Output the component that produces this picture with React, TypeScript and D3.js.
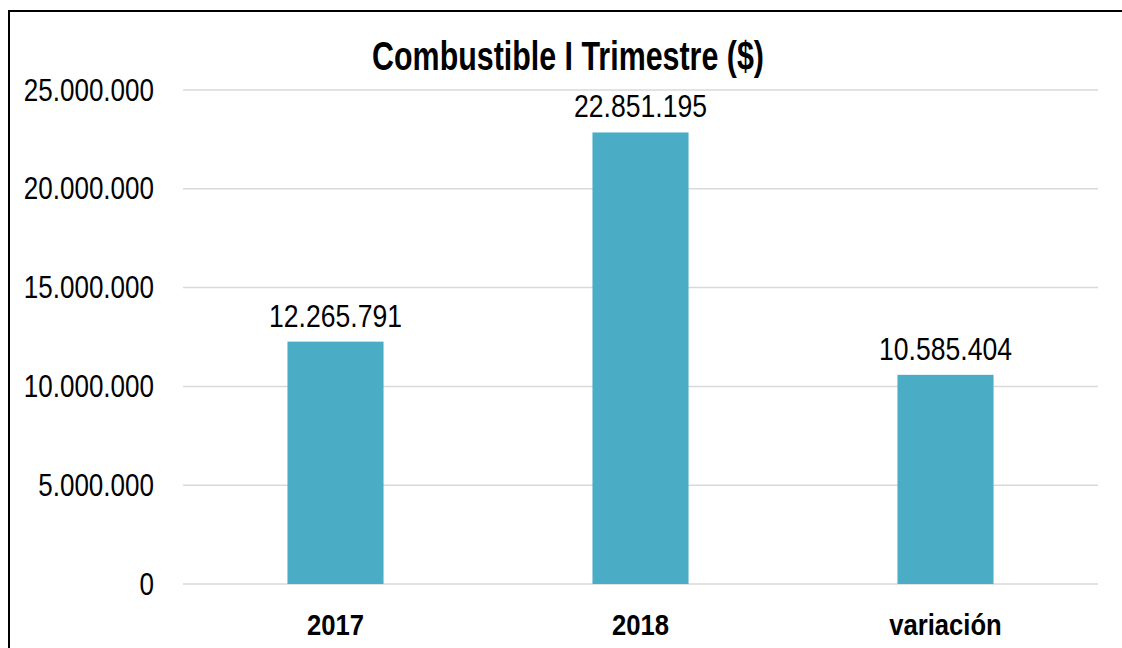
import { useEffect, useRef } from "react";
import * as d3 from "d3";

const categories = ["2017", "2018", "variación"];
const values = [12265791, 22851195, 10585404];
const yTicks = [0, 5000000, 10000000, 15000000, 20000000, 25000000];
const title = "Combustible I Trimestre ($)";

// no narrow font installed, so Liberation Sans is squeezed horizontally
const FONT = "'Liberation Sans', Arial, sans-serif";

// dots as thousand separators, like the original
const fmt = (v: number) => d3.format(",")(v).replace(/,/g, ".");

export default function App() {
  const ref = useRef<SVGSVGElement>(null);

  useEffect(() => {
    if (!ref.current) return;
    const width = 1122;
    const height = 648;
    const margin = { top: 90, right: 24, bottom: 64, left: 183 };

    const svg = d3.select(ref.current);
    svg.selectAll("*").remove();

    // chart border, runs off the right and bottom of the picture
    svg.append("rect")
      .attr("x", 9)
      .attr("y", 11)
      .attr("width", 1200)
      .attr("height", 800)
      .attr("fill", "#fff")
      .attr("stroke", "#000")
      .attr("stroke-width", 2);

    const x = d3.scaleBand()
      .domain(categories)
      .range([margin.left, width - margin.right])
      .padding(0);
    const y = d3.scaleLinear()
      .domain([0, 25000000])
      .range([height - margin.bottom, margin.top]);

    const barW = x.bandwidth() * 0.315;

    svg.append("g")
      .selectAll("line")
      .data(yTicks)
      .enter()
      .append("line")
      .attr("x1", margin.left)
      .attr("x2", width - margin.right)
      .attr("y1", (d) => y(d))
      .attr("y2", (d) => y(d))
      .attr("stroke", "#d9d9d9")
      .attr("stroke-width", 1.5);

    svg.append("g")
      .selectAll("text")
      .data(yTicks)
      .enter()
      .append("text")
      .attr("transform", (d) => `translate(154,${y(d) + 10.5}) scale(0.84,1)`)
      .attr("text-anchor", "end")
      .style("font-family", FONT)
      .style("font-size", "31px")
      .attr("fill", "#000")
      .text((d) => fmt(d));

    svg.append("g")
      .selectAll("rect")
      .data(values)
      .enter()
      .append("rect")
      .attr("x", (_, i) => x(categories[i])! + (x.bandwidth() - barW) / 2)
      .attr("y", (d) => y(d))
      .attr("width", barW)
      .attr("height", (d) => y(0) - y(d))
      .attr("fill", "#4bacc6");

    svg.append("g")
      .selectAll("text")
      .data(values)
      .enter()
      .append("text")
      .attr("transform", (d, i) =>
        `translate(${x(categories[i])! + x.bandwidth() / 2},${y(d) - 15}) scale(0.83,1)`)
      .attr("text-anchor", "middle")
      .style("font-family", FONT)
      .style("font-size", "32px")
      .attr("fill", "#000")
      .text((d) => fmt(d));

    svg.append("g")
      .selectAll("text")
      .data(categories)
      .enter()
      .append("text")
      .attr("transform", (d) => `translate(${x(d)! + x.bandwidth() / 2},635) scale(0.855,1)`)
      .attr("text-anchor", "middle")
      .style("font-family", FONT)
      .style("font-size", "30px")
      .style("font-weight", "bold")
      .attr("fill", "#000")
      .text((d) => d);

    svg.append("text")
      .attr("transform", "translate(568,70) scale(0.76,1)")
      .attr("text-anchor", "middle")
      .style("font-family", FONT)
      .style("font-size", "40px")
      .style("font-weight", "bold")
      .attr("fill", "#000")
      .text(title);
  }, []);

  return (
    <svg
      ref={ref}
      width={1122}
      height={648}
      style={{ position: "absolute", left: 0, top: 0, display: "block", background: "#fff" }}
    />
  );
}
